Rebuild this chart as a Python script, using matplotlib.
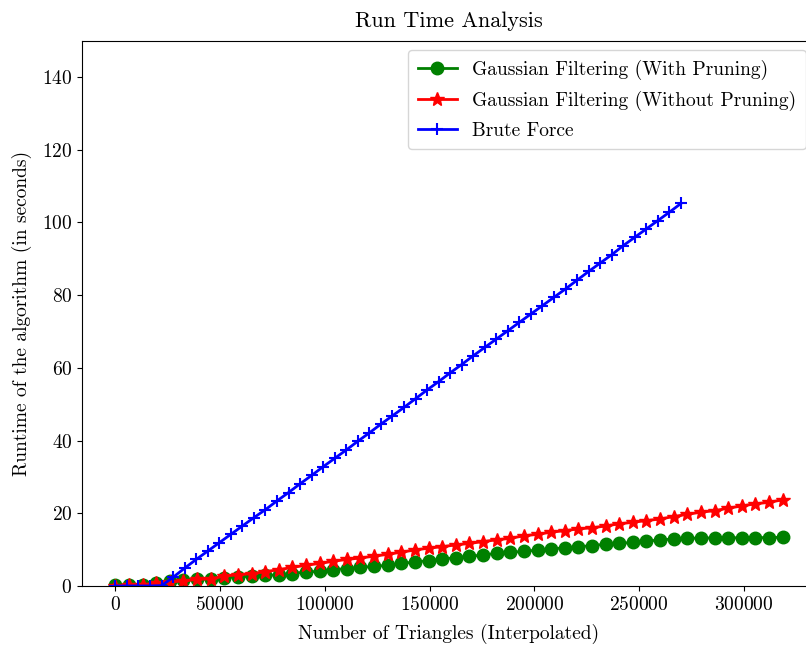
import matplotlib
matplotlib.use("Agg")
import matplotlib.pyplot as plt

# --- data ---
x_gauss = [0, 6500, 13000, 19500, 26000, 32500, 39000, 45500, 52000, 58500,
           65000, 71500, 78000, 84500, 91000, 97500, 104000, 110500, 117000, 123500,
           130000, 136500, 143000, 149500, 156000, 162500, 169000, 175500, 182000, 188500,
           195000, 201500, 208000, 214500, 221000, 227500, 234000, 240500, 247000, 253500,
           260000, 266500, 273000, 279500, 286000, 292500, 299000, 305500, 312000, 318500]

y_with_pruning = [0.2, 0.3, 0.4, 0.9, 1.4, 1.6, 1.8, 2.0, 2.3, 2.5,
                  2.7, 2.9, 3.1, 3.4, 3.9, 4.0, 4.5, 4.8, 5.1, 5.4,
                  5.7, 6.2, 6.6, 7.0, 7.4, 7.8, 8.2, 8.5, 9.0, 9.3,
                  9.5, 9.9, 10.2, 10.5, 10.8, 11.1, 11.5, 11.7, 12.0, 12.3,
                  12.7, 12.9, 13.1, 13.2, 13.2, 13.2, 13.3, 13.3, 13.3, 13.4]

y_without_pruning = [0.1, 0.2, 0.4, 0.7, 1.1, 1.4, 1.8, 2.0, 2.7, 3.1,
                     3.4, 3.9, 4.5, 5.1, 5.7, 6.2, 6.8, 7.3, 7.7, 8.2,
                     8.7, 9.3, 9.9, 10.4, 10.8, 11.3, 11.7, 12.2, 12.7, 13.1,
                     13.8, 14.2, 14.8, 15.2, 15.7, 16.0, 16.5, 17.1, 17.5, 18.0,
                     18.4, 19.1, 19.7, 20.3, 20.7, 21.4, 22.0, 22.6, 23.0, 23.7]

x_brute = [0, 5510, 11020, 16530, 22040, 27550, 33060, 38570, 44080, 49590,
           55100, 60610, 66120, 71630, 77140, 82650, 88160, 93670, 99180, 104690,
           110200, 115710, 121220, 126730, 132240, 137750, 143260, 148770, 154280, 159790,
           165300, 170810, 176320, 181830, 187340, 192850, 198360, 203870, 209380, 214890,
           220400, 225910, 231420, 236930, 242440, 247950, 253460, 258970, 264480, 270000]

y_brute = [0.0, 0.0, 0.0, 0.0, 0.1, 2.4, 4.9, 7.3, 9.6, 11.9,
           14.2, 16.5, 18.8, 21.0, 23.4, 25.7, 28.1, 30.4, 32.8, 35.1,
           37.4, 39.8, 42.1, 44.5, 46.8, 49.1, 51.5, 53.9, 56.2, 58.6,
           60.9, 63.3, 65.6, 67.9, 70.2, 72.5, 74.8, 77.1, 79.4, 81.7,
           84.1, 86.5, 88.8, 91.1, 93.6, 95.9, 98.2, 100.5, 102.8, 105.2]

labels = ["Gaussian Filtering (With Pruning)",
          "Gaussian Filtering (Without Pruning)",
          "Brute Force"]

plt.rcParams['font.family'] = 'serif'
plt.rcParams['font.serif'] = ['cmr10', 'DejaVu Serif']
plt.rcParams['mathtext.fontset'] = 'cm'
plt.rcParams['axes.formatter.use_mathtext'] = True

fig = plt.figure(figsize=(8.06, 6.5), dpi=100)
# axes runs slightly past the right edge, as in the (cropped) reference
ax = fig.add_axes([82 / 806, 64 / 650, 734 / 806, 545.5 / 650])

ax.plot(x_gauss, y_with_pruning, 'o-', color='green', markersize=9, linewidth=2, label=labels[0])
ax.plot(x_gauss, y_without_pruning, '*-', color='red', markersize=10, linewidth=2, label=labels[1])
ax.plot(x_brute, y_brute, '+-', color='blue', markersize=9, markeredgewidth=1.5,
        linewidth=2, label=labels[2])

ax.set_ylim(0, 150)
ax.set_xlim(-15925, 334425)
ax.set_yticks([0, 20, 40, 60, 80, 100, 120, 140])
ax.set_xticks([0, 50000, 100000, 150000, 200000, 250000, 300000])
ax.tick_params(labelsize=14)

ax.set_title("Run Time Analysis", fontsize=16, pad=10)
ax.set_xlabel("Number of Triangles (Interpolated)", fontsize=14, labelpad=7)
ax.set_ylabel("Runtime of the algorithm (in seconds)", fontsize=14, labelpad=7)
ax.legend(loc='upper right', fontsize=14, borderpad=0.5, labelspacing=0.55)

fig.savefig("out.png", dpi=100)
